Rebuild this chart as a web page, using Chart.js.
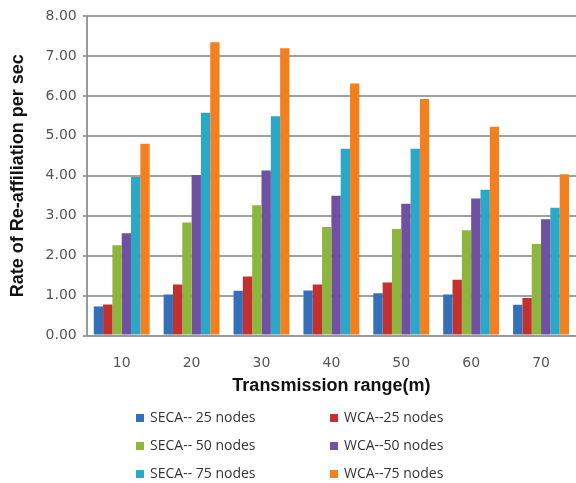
<!DOCTYPE html>
<html>
<head>
<meta charset="utf-8">
<script src="https://cdn.jsdelivr.net/npm/chart.js@4"></script>
<style>
  body { margin: 0; background: #fff; }
  #wrap { width: 576px; height: 483px; }
</style>
</head>
<body>
<div id="wrap"><canvas id="reChart" width="576" height="483"></canvas></div>
<script>
// transmission ranges (m)
const ranges = ['10', '20', '30', '40', '50', '60', '70'];

// rate of re-affiliation per sec
const seca25 = [0.73, 1.03, 1.12, 1.13, 1.06, 1.03, 0.77];
const wca25  = [0.78, 1.28, 1.48, 1.28, 1.33, 1.40, 0.94];
const seca50 = [2.26, 2.83, 3.26, 2.72, 2.67, 2.64, 2.29];
const wca50  = [2.56, 4.02, 4.13, 3.50, 3.30, 3.43, 2.91];
const seca75 = [3.97, 5.58, 5.49, 4.68, 4.68, 3.65, 3.20];
const wca75  = [4.80, 7.34, 7.19, 6.31, 5.92, 5.23, 4.04];

const seriesNames = ['SECA-- 25 nodes', 'WCA--25 nodes', 'SECA-- 50 nodes',
                     'WCA--50 nodes', 'SECA-- 75 nodes', 'WCA--75 nodes'];
const seriesData = [seca25, wca25, seca50, wca50, seca75, wca75];
const seriesColors = ['#3470b9', '#c3312e', '#8db63c', '#7050a0', '#2ba7c8', '#f2801f'];

// two-column legend under the axis title, like the original
const gridLegend = {
  id: 'gridLegend',
  afterDraw(chart) {
    const ctx = chart.ctx;
    const colX = [136, 330];
    const rowY = [418, 446, 474];
    ctx.save();
    ctx.font = '14px "Open Sans"';
    ctx.textBaseline = 'middle';
    chart.data.datasets.forEach((ds, i) => {
      const x = colX[i % 2];
      const y = rowY[Math.floor(i / 2)];
      ctx.fillStyle = ds.backgroundColor;
      ctx.fillRect(x, y - 4, 8, 8);
      ctx.fillStyle = '#333';
      ctx.fillText(ds.label, x + 14, y);
    });
    ctx.restore();
  }
};

new Chart(document.getElementById('reChart'), {
  type: 'bar',
  data: {
    labels: ranges,
    datasets: seriesNames.map((name, i) => ({
      label: name,
      data: seriesData[i],
      backgroundColor: seriesColors[i],
      borderWidth: 0,
      categoryPercentage: 0.8,
      barPercentage: 1.0
    }))
  },
  options: {
    responsive: false,
    animation: false,
    layout: { padding: { top: 16, right: 0, bottom: 86, left: 7 } },
    plugins: {
      legend: { display: false },
      tooltip: { enabled: false }
    },
    scales: {
      x: {
        grid: { display: false, drawTicks: false },
        border: { color: '#999', width: 2 },
        ticks: { color: '#555', padding: 19, font: { family: 'DejaVu Sans', size: 14 } },
        title: {
          display: true,
          text: 'Transmission range(m)',
          color: '#111',
          font: { family: 'Liberation Sans', size: 18, weight: 'bold' },
          padding: { top: -15, bottom: 0 }
        }
      },
      y: {
        min: 0,
        max: 8,
        ticks: {
          stepSize: 1,
          color: '#555',
          padding: 6,
          font: { family: 'DejaVu Sans', size: 14 },
          callback: v => v.toFixed(2)
        },
        grid: { color: '#a0a0a0', lineWidth: 2, tickLength: 4 },
        border: { color: '#999', width: 2 },
        title: {
          display: true,
          text: 'Rate of Re-affiliation per sec',
          color: '#111',
          font: { family: 'Liberation Sans', size: 18, weight: 'bold' },
          padding: { top: 0, bottom: 11 }
        }
      }
    }
  },
  plugins: [gridLegend]
});
</script>
</body>
</html>
